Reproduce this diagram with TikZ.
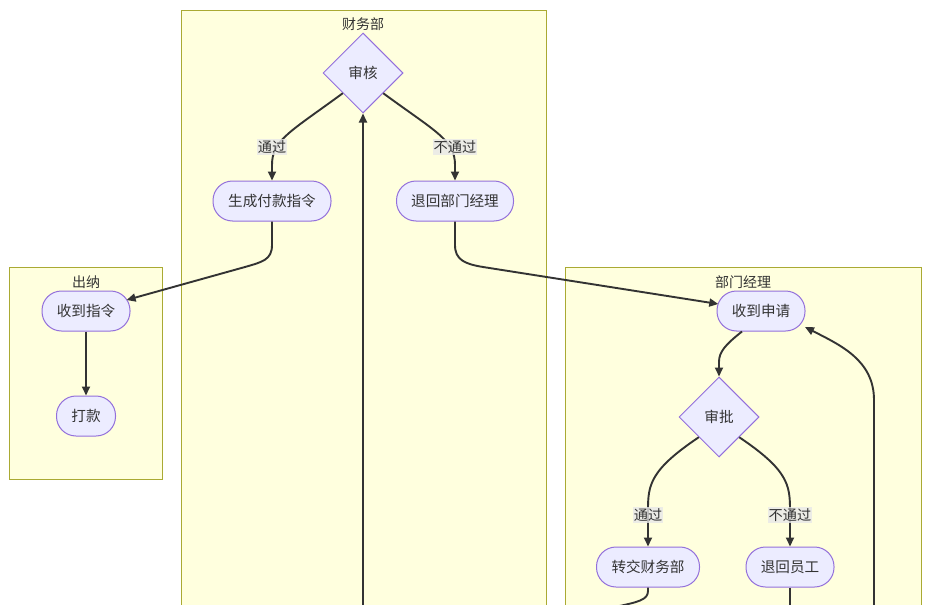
\documentclass[tikz,border=0pt]{standalone}
\usepackage{fontspec}
\setmainfont{Noto Sans CJK SC}
\usetikzlibrary{arrows.meta,shapes.geometric,calc}
\definecolor{nodefill}{HTML}{ECECFF}
\definecolor{nodeline}{HTML}{9370DB}
\definecolor{grpfill}{HTML}{FFFFDE}
\definecolor{grpline}{HTML}{AAAA33}
\definecolor{edgec}{HTML}{333333}
\definecolor{lblbg}{HTML}{E8E8E8}
\begin{document}
\begin{tikzpicture}[x=1pt,y=-1pt,font=\fontsize{14}{16}\selectfont,text=edgec,
  grp/.style={draw=grpline,fill=grpfill,line width=1pt},
  grptitle/.style={inner sep=0pt},
  stad/.style={draw=nodeline,fill=nodefill,line width=1pt,rounded corners=19.5pt,minimum height=40pt,inner sep=0pt,font=\fontsize{14.6}{16}\selectfont},
  dia/.style={diamond,draw=nodeline,fill=nodefill,line width=1pt,minimum width=80pt,minimum height=80pt,inner sep=0pt,font=\fontsize{14.6}{16}\selectfont},
  link/.style={draw=edgec,line width=1.9pt,-{Triangle[length=9pt,width=8pt]}},
  linkplain/.style={draw=edgec,line width=1.9pt},
  lbl/.style={fill=lblbg,fill opacity=0.8,text opacity=1,inner xsep=1pt,inner ysep=0pt,minimum height=16pt,font=\fontsize{14.2}{16}\selectfont}
]
\useasboundingbox (0,0) rectangle (930,605);
\clip (0,0) rectangle (930,605);
\fill[white] (0,0) rectangle (930,605);
% groups
\draw[grp] (181,10) rectangle (546,640);
\node[grptitle] (g1) at (363,24) {财务部};
\draw[grp] (9,267) rectangle (162,479);
\node[grptitle] (g2) at (86,282) {出纳};
\draw[grp] (565,267) rectangle (921,640);
\node[grptitle] (g3) at (743,282) {部门经理};
% nodes
\node[dia] (sh) at (363,73) {审核};
\node[stad,minimum width=118pt] (sc) at (272,201) {生成付款指令};
\node[stad,minimum width=117pt] (th) at (455,201) {退回部门经理};
\node[stad,minimum width=88pt] (sz) at (86,311) {收到指令};
\node[stad,minimum width=59pt] (dk) at (86,416) {打款};
\node[stad,minimum width=88pt] (ss) at (761,311) {收到申请};
\node[dia] (sp) at (719,417) {审批};
\node[stad,minimum width=103pt] (zj) at (648,567) {转交财务部};
\node[stad,minimum width=88pt] (ty) at (790,567) {退回员工};
% off-picture ends
\coordinate (b1) at (363,640);
\coordinate (b2) at (570,618);
\coordinate (b3) at (790,640);
\coordinate (b4) at (874,640);
% edges
\draw[link] (sh.south west) .. controls (290,132) and (272,140) .. (272,165) -- (sc.north);
\draw[link] (sh.south east) .. controls (436,132) and (455,140) .. (455,165) -- (th.north);
\draw[link] (b1) -- (sh.south);
\draw[link] (sc.south) -- (272,245) .. controls (272,260) and (262,262) .. (245,267) -- ($(sz.center)+(40.6,-11)$);
\draw[link] (sz.south) -- (dk.north);
\draw[link] (th.south) -- (455,245) .. controls (455,260) and (465,264) .. (483,267) -- ($(ss.center)+(-42.7,-7)$);
\draw[link] ($(ss.south)+(-19,0)$) .. controls (725,345) and (719,352) .. (719,362) -- (sp.north);
\draw[link] (sp.south west) .. controls (650,470) and (648,485) .. (648,510) -- (zj.north);
\draw[link] (sp.south east) .. controls (788,470) and (790,485) .. (790,510) -- (ty.north);
\draw[linkplain] (zj.south) -- (648,591) .. controls (648,600) and (638,602) .. (615,607) -- (b2);
\draw[linkplain] (ty.south) -- (b3);
\draw[link] (b4) -- (874,400) .. controls (874,360) and (840,345) .. ($(ss.center)+(44,16)$);
% labels
\node[lbl] (l1) at (272,147) {通过};
\node[lbl] (l2) at (455,147) {不通过};
\node[lbl] (l3) at (648,515) {通过};
\node[lbl] (l4) at (790,515) {不通过};
\end{tikzpicture}
\end{document}
